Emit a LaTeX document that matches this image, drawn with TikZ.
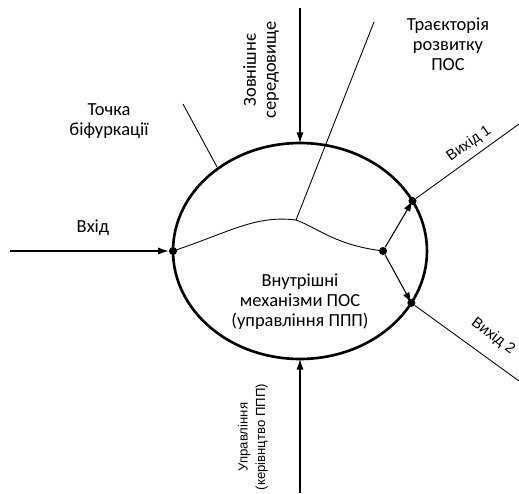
\documentclass[tikz,border=0pt]{standalone}
\usepackage{fontspec}
\setmainfont{Carlito}
\newfontfamily\arialfont{Liberation Sans}
\usepackage{tikz}
\usetikzlibrary{arrows.meta,shapes.geometric}
\newcommand{\dotsize}{4.6pt}
\newcommand{\rimwidth}{1.5pt}

\tikzset{
    RimStyle/.style = {draw, ellipse, line width = \rimwidth, minimum width = 5.08cm,
                       minimum height = 4.32cm, inner sep = 0pt, outer sep = 0pt},
    DotStyle/.style = {circle, fill = black, minimum size = \dotsize, inner sep = 0pt},
    FlowStyle/.style = {-{Latex[length=6pt, width=4pt]}, line width = 0.6pt},
    ThinStyle/.style = {line width = 0.5pt},
    LabelStyle/.style = {font = \fontsize{10.5}{11.4}\selectfont, align = center},
    SideStyle/.style = {font = \arialfont\fontsize{7.5}{10}\selectfont, align = center},
    OutStyle/.style = {font = \arialfont\fontsize{8.5}{10}\selectfont}
}

\begin{document}
\begin{tikzpicture}[x = 0.02cm, y = -0.02cm]
                %\draw[help lines] (0,0) grid[step=50] (519,493);
                \useasboundingbox (0, 0) rectangle (519, 493);
                \node[RimStyle] (sys) at (300, 251) {};

                \node[DotStyle] (p0) at (sys.west) {};
                \node[DotStyle] (p1) at (383, 251) {};
                \node[DotStyle] (p2) at (sys.24) {};
                \node[DotStyle] (p3) at (sys.-25) {};

                \coordinate (inp) at (10, 251);
                \coordinate (env) at (300, 8);
                \coordinate (ctl) at (300, 493);
                \coordinate (out1) at (519, 124);
                \coordinate (out2) at (519, 381);
                \coordinate (bif) at (183, 104);
                \coordinate (bifend) at (217, 167);
                \coordinate (traj) at (374, 22);
                \coordinate (peak) at (296, 220);

                \draw[FlowStyle] (inp) -- (p0);
                \draw[FlowStyle] (env) -- (sys.north);
                \draw[FlowStyle] (ctl) -- (sys.south);
                \draw[ThinStyle] (p0.center) .. controls (230, 232) and (255, 215) .. (peak)
                                 .. controls (318, 228) and (335, 245) .. (p1.center);
                \draw[ThinStyle] (traj) -- (peak);
                \draw[ThinStyle] (bif) -- (bifend);
                \draw[FlowStyle] (p1) -- (p2.center);
                \draw[FlowStyle] (p1) -- (p3.center);
                \draw[ThinStyle] (p2) -- (out1);
                \draw[ThinStyle] (p3) -- (out2);

                \node[LabelStyle] (tin) at (93, 228) {Вхід};
                \node[LabelStyle] (tbif) at (109, 121) {Точка\\біфуркації};
                \node[LabelStyle, rotate = 90] (tenv) at (261, 70) {Зовнішнє\\середовище};
                \node[LabelStyle] (ttraj) at (448, 44) {Траєкторія\\розвитку\\ПОС};
                \node[LabelStyle] (tsys) at (300, 302) {Внутрішні\\механізми ПОС\\(управління ППП)};
                \node[SideStyle, rotate = 90] (tctl) at (253, 437) {Управління\\(керівнцтво ППП)};
                \node[OutStyle, rotate = 35] (tout1) at (469, 144) {Вихід 1};
                \node[OutStyle, rotate = -37] (tout2) at (493, 336) {Вихід 2};
\end{tikzpicture}
\end{document}
